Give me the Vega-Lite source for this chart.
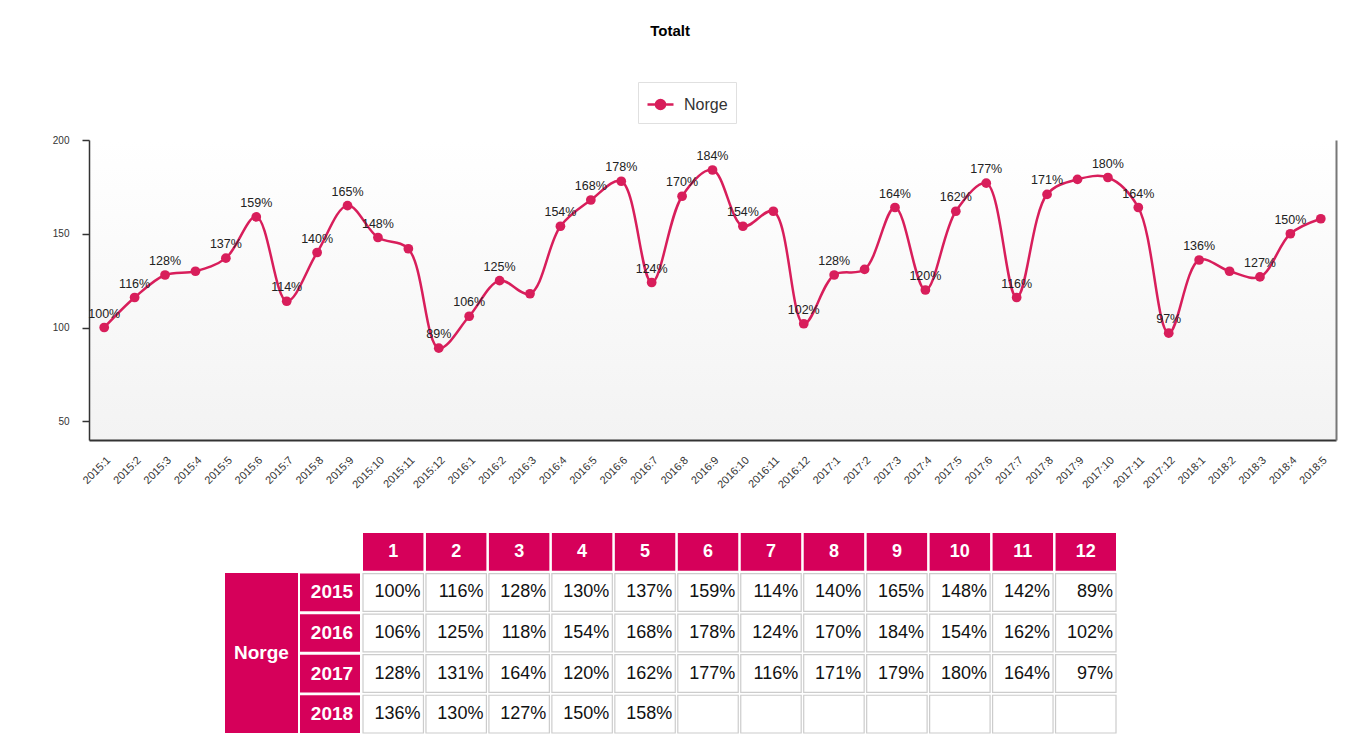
{
  "$schema": "https://vega.github.io/schema/vega-lite/v6.json",
  "background": "white",
  "padding": {"left": 52, "top": 23, "right": 10, "bottom": 5},
  "title": {"text": "Totalt", "font": "Liberation Sans", "fontSize": 15, "fontWeight": "bold", "color": "#000", "anchor": "middle", "offset": 43, "dx": -24},
  "config": {"view": {"stroke": null}},
  "datasets": {
    "monthly": [
      {"period": "2015:1", "year": "2015", "month": 1, "value": 100, "label": true},
      {"period": "2015:2", "year": "2015", "month": 2, "value": 116, "label": true},
      {"period": "2015:3", "year": "2015", "month": 3, "value": 128, "label": true},
      {"period": "2015:4", "year": "2015", "month": 4, "value": 130, "label": false},
      {"period": "2015:5", "year": "2015", "month": 5, "value": 137, "label": true},
      {"period": "2015:6", "year": "2015", "month": 6, "value": 159, "label": true},
      {"period": "2015:7", "year": "2015", "month": 7, "value": 114, "label": true},
      {"period": "2015:8", "year": "2015", "month": 8, "value": 140, "label": true},
      {"period": "2015:9", "year": "2015", "month": 9, "value": 165, "label": true},
      {"period": "2015:10", "year": "2015", "month": 10, "value": 148, "label": true},
      {"period": "2015:11", "year": "2015", "month": 11, "value": 142, "label": false},
      {"period": "2015:12", "year": "2015", "month": 12, "value": 89, "label": true},
      {"period": "2016:1", "year": "2016", "month": 1, "value": 106, "label": true},
      {"period": "2016:2", "year": "2016", "month": 2, "value": 125, "label": true},
      {"period": "2016:3", "year": "2016", "month": 3, "value": 118, "label": false},
      {"period": "2016:4", "year": "2016", "month": 4, "value": 154, "label": true},
      {"period": "2016:5", "year": "2016", "month": 5, "value": 168, "label": true},
      {"period": "2016:6", "year": "2016", "month": 6, "value": 178, "label": true},
      {"period": "2016:7", "year": "2016", "month": 7, "value": 124, "label": true},
      {"period": "2016:8", "year": "2016", "month": 8, "value": 170, "label": true},
      {"period": "2016:9", "year": "2016", "month": 9, "value": 184, "label": true},
      {"period": "2016:10", "year": "2016", "month": 10, "value": 154, "label": true},
      {"period": "2016:11", "year": "2016", "month": 11, "value": 162, "label": false},
      {"period": "2016:12", "year": "2016", "month": 12, "value": 102, "label": true},
      {"period": "2017:1", "year": "2017", "month": 1, "value": 128, "label": true},
      {"period": "2017:2", "year": "2017", "month": 2, "value": 131, "label": false},
      {"period": "2017:3", "year": "2017", "month": 3, "value": 164, "label": true},
      {"period": "2017:4", "year": "2017", "month": 4, "value": 120, "label": true},
      {"period": "2017:5", "year": "2017", "month": 5, "value": 162, "label": true},
      {"period": "2017:6", "year": "2017", "month": 6, "value": 177, "label": true},
      {"period": "2017:7", "year": "2017", "month": 7, "value": 116, "label": true},
      {"period": "2017:8", "year": "2017", "month": 8, "value": 171, "label": true},
      {"period": "2017:9", "year": "2017", "month": 9, "value": 179, "label": false},
      {"period": "2017:10", "year": "2017", "month": 10, "value": 180, "label": true},
      {"period": "2017:11", "year": "2017", "month": 11, "value": 164, "label": true},
      {"period": "2017:12", "year": "2017", "month": 12, "value": 97, "label": true},
      {"period": "2018:1", "year": "2018", "month": 1, "value": 136, "label": true},
      {"period": "2018:2", "year": "2018", "month": 2, "value": 130, "label": false},
      {"period": "2018:3", "year": "2018", "month": 3, "value": 127, "label": true},
      {"period": "2018:4", "year": "2018", "month": 4, "value": 150, "label": true},
      {"period": "2018:5", "year": "2018", "month": 5, "value": 158, "label": false},
      {"period": "2018:6", "year": "2018", "month": 6, "value": null, "label": false},
      {"period": "2018:7", "year": "2018", "month": 7, "value": null, "label": false},
      {"period": "2018:8", "year": "2018", "month": 8, "value": null, "label": false},
      {"period": "2018:9", "year": "2018", "month": 9, "value": null, "label": false},
      {"period": "2018:10", "year": "2018", "month": 10, "value": null, "label": false},
      {"period": "2018:11", "year": "2018", "month": 11, "value": null, "label": false},
      {"period": "2018:12", "year": "2018", "month": 12, "value": null, "label": false}
    ]
  },
  "spacing": 43,
  "vconcat": [
    {
      "width": 1247,
      "height": 300,
      "data": {"name": "monthly"},
      "transform": [
        {"filter": "isValid(datum.value)"},
        {"calculate": "datum.value + '%'", "as": "txt"}
      ],
      "view": {"stroke": null, "fill": {"gradient": "linear", "x1": 0, "y1": 0, "x2": 0, "y2": 1, "stops": [{"offset": 0, "color": "#ffffff"}, {"offset": 1, "color": "#f3f3f3"}]}},
      "encoding": {
        "x": {
          "field": "period", "type": "ordinal", "sort": null,
          "scale": {"type": "point", "padding": 0.5},
          "axis": {"title": null, "labelAngle": -45, "ticks": false, "labelFontSize": 11, "labelFont": "Liberation Sans", "labelColor": "#333", "domainColor": "#333", "domainWidth": 2, "labelPadding": 14}
        }
      },
      "layer": [
        {
          "mark": {"type": "line", "interpolate": "catmull-rom", "strokeWidth": 2.5},
          "encoding": {
            "y": {"field": "value", "type": "quantitative", "scale": {"domain": [50, 200]},
              "axis": {"values": [50, 100, 150, 200], "title": null, "grid": false, "domainColor": "#333", "domainWidth": 1.5, "tickColor": "#333", "tickSize": 7, "tickWidth": 1.5, "labelFontSize": 10, "labelFont": "Liberation Sans", "labelColor": "#333", "labelPadding": 13}},
            "color": {"datum": "Norge", "type": "nominal", "scale": {"range": ["#d81e5b"]},
              "legend": {"orient": "none", "legendX": 549, "legendY": -58, "title": null, "padding": 8, "strokeColor": "#e0e0e0", "fillColor": "#ffffff", "labelFont": "Liberation Sans", "labelFontSize": 16, "labelColor": "#333", "symbolType": "M-1,0L1,0M-0.35,0A0.35,0.35 0 1,1 0.35,0A0.35,0.35 0 1,1 -0.35,0", "symbolSize": 676, "symbolStrokeWidth": 2.5, "symbolFillColor": "#d81e5b", "symbolStrokeColor": "#d81e5b", "labelOffset": 9}}
          }
        },
        {
          "mark": {"type": "point", "filled": true, "size": 95, "opacity": 1, "color": "#d81e5b"},
          "encoding": {
            "y": {"field": "value", "type": "quantitative",
              "axis": {"orient": "right", "labels": false, "ticks": false, "grid": false, "title": null, "domainColor": "#777", "domainWidth": 2}}
          }
        },
        {
          "transform": [{"filter": "datum.label"}],
          "mark": {"type": "text", "dy": -14, "fontSize": 12.5, "font": "Liberation Sans", "color": "#222", "baseline": "middle"},
          "encoding": {
            "y": {"field": "value", "type": "quantitative", "axis": null},
            "text": {"field": "txt"}
          }
        }
      ],
      "resolve": {"axis": {"y": "independent"}}
    },
    {
      "spacing": 2,
      "hconcat": [
        {
          "width": 134, "height": 200,
          "data": {"values": []},
          "mark": "text",
          "encoding": {}
        },
        {
          "width": 73, "height": 200,
          "data": {"name": "monthly"},
          "transform": [{"filter": "datum.month == 1"}],
          "layer": [
            {
              "mark": {"type": "rect", "fill": "#d6005a"},
              "encoding": {
                "y": {"field": "year", "type": "ordinal", "scale": {"domain": ["hdr", "2015", "2016", "2017", "2018"], "paddingInner": 0, "paddingOuter": 0}, "axis": null}
              }
            },
            {
              "transform": [{"filter": "datum.year == '2016'"}],
              "mark": {"type": "text", "font": "Liberation Sans", "fontSize": 19, "fontWeight": "bold", "color": "#ffffff", "baseline": "middle", "align": "center"},
              "encoding": {
                "y": {"field": "year", "type": "ordinal", "bandPosition": 1},
                "text": {"value": "Norge"}
              }
            }
          ]
        },
        {
          "width": 60, "height": 200,
          "data": {"name": "monthly"},
          "transform": [{"filter": "datum.month == 1"}],
          "encoding": {
            "y": {"field": "year", "type": "ordinal", "scale": {"domain": ["hdr", "2015", "2016", "2017", "2018"], "paddingInner": 0.07, "paddingOuter": 0}, "axis": null}
          },
          "layer": [
            {"mark": {"type": "rect", "fill": "#d6005a"}},
            {
              "mark": {"type": "text", "font": "Liberation Sans", "fontSize": 19, "fontWeight": "bold", "color": "#ffffff", "baseline": "middle", "align": "center", "dx": 2},
              "encoding": {"text": {"field": "year"}}
            }
          ]
        },
        {
          "width": 753, "height": 200,
          "data": {"name": "monthly"},
          "transform": [{"calculate": "isValid(datum.value) ? datum.value + '%' : ''", "as": "txt"}],
          "encoding": {
            "x": {"field": "month", "type": "ordinal", "scale": {"paddingInner": 0.04, "paddingOuter": 0}, "axis": null}
          },
          "layer": [
            {
              "transform": [{"filter": "datum.year == '2015'"}],
              "mark": {"type": "rect", "fill": "#d6005a"},
              "encoding": {
                "y": {"datum": "hdr", "type": "ordinal", "scale": {"domain": ["hdr", "2015", "2016", "2017", "2018"], "paddingInner": 0.07, "paddingOuter": 0}, "axis": null}
              }
            },
            {
              "transform": [{"filter": "datum.year == '2015'"}],
              "mark": {"type": "text", "font": "Liberation Sans", "fontSize": 18, "fontWeight": "bold", "color": "#ffffff", "baseline": "middle", "align": "center"},
              "encoding": {
                "y": {"datum": "hdr", "type": "ordinal"},
                "text": {"field": "month"}
              }
            },
            {
              "mark": {"type": "rect", "fill": "#ffffff", "stroke": "#cccccc", "strokeWidth": 1.2},
              "encoding": {
                "y": {"field": "year", "type": "ordinal"}
              }
            },
            {
              "mark": {"type": "text", "font": "Liberation Sans", "fontSize": 18, "color": "#111", "baseline": "middle", "align": "right", "dx": -3},
              "encoding": {
                "x": {"field": "month", "type": "ordinal", "bandPosition": 1},
                "y": {"field": "year", "type": "ordinal"},
                "text": {"field": "txt"}
              }
            }
          ]
        }
      ]
    }
  ]
}
